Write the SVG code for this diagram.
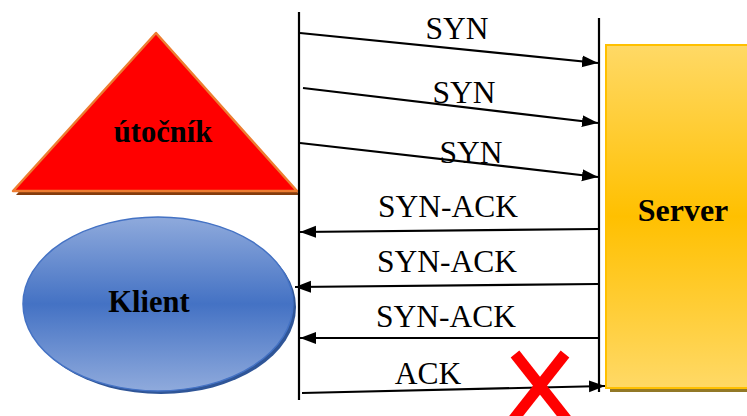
<svg xmlns="http://www.w3.org/2000/svg" width="747" height="416" viewBox="0 0 747 416">
<defs>
<linearGradient id="gServer" x1="0" y1="0" x2="0" y2="1">
<stop offset="0" stop-color="#FFD966"/>
<stop offset="0.5" stop-color="#FFC000"/>
<stop offset="1" stop-color="#FFD966"/>
</linearGradient>
<linearGradient id="gClient" x1="0" y1="0" x2="0" y2="1">
<stop offset="0" stop-color="#8FAADC"/>
<stop offset="0.5" stop-color="#4472C4"/>
<stop offset="1" stop-color="#8FAADC"/>
</linearGradient>
<marker id="ah" viewBox="0 0 16 12" refX="16" refY="6" markerWidth="16" markerHeight="13" markerUnits="userSpaceOnUse" orient="auto">
<path d="M0,0 L16,6 L0,12 Z" fill="#000"/>
</marker>
</defs>
<style>
.lbl{font-family:"Liberation Serif","Times New Roman",serif;font-size:31.5px;fill:#000;text-anchor:middle}
.node{font-family:"Liberation Serif","Times New Roman",serif;font-size:30.5px;font-weight:bold;fill:#000;text-anchor:middle}
.msg{stroke:#000;stroke-width:2.2;fill:none;marker-end:url(#ah)}
.life{stroke:#000;stroke-width:2.2}
</style>
<rect width="747" height="416" fill="#fff"/>
<g id="server">
<rect x="610" y="49" width="140" height="343" fill="#7F6000" opacity="0.85"/>
<rect x="606" y="45" width="144" height="343" fill="url(#gServer)" stroke="#FFC000" stroke-width="2"/>
<text class="node" x="683" y="221" style="font-size:32px">Server</text>
</g>
<g id="utocnik">
<polygon points="16,195 157,37 300,195" fill="#843C0C"/>
<polygon points="13,191 156,33 297,191" fill="#FF0000" stroke="#ED7D31" stroke-width="2.5" stroke-linejoin="round"/>
<text class="node" x="163" y="142">útočník</text>
</g>
<g id="klient">
<ellipse cx="161" cy="307" rx="135" ry="87" fill="#2F5597"/>
<ellipse cx="158" cy="304" rx="135" ry="87" fill="url(#gClient)" stroke="#4472C4" stroke-width="1.5"/>
<text class="node" x="149" y="312">Klient</text>
</g>
<g id="connectors">
<line class="life" x1="299" y1="12" x2="299" y2="400"/>
<line class="life" x1="599" y1="18" x2="599" y2="392"/>
<path class="msg" d="M300,33 L598,63"/>
<path class="msg" d="M303,88 L598,123"/>
<path class="msg" d="M300,143 L598,177"/>
<path class="msg" d="M598,229 L300,232"/>
<path class="msg" d="M598,284 L295,287"/>
<path class="msg" d="M598,338 L300,338"/>
<path class="msg" d="M302,393 L605,386"/>
</g>
<g id="labels">
<text class="lbl" x="457" y="39">SYN</text>
<text class="lbl" x="464" y="103">SYN</text>
<text class="lbl" x="471" y="163">SYN</text>
<text class="lbl" x="448" y="217">SYN-ACK</text>
<text class="lbl" x="447" y="272">SYN-ACK</text>
<text class="lbl" x="446" y="327">SYN-ACK</text>
<text class="lbl" x="428" y="384">ACK</text>
</g>
<g id="cross" stroke="#FF0000" stroke-width="11">
<line x1="515" y1="354" x2="567" y2="420"/>
<line x1="565" y1="354" x2="513" y2="420"/>
</g>
</svg>
